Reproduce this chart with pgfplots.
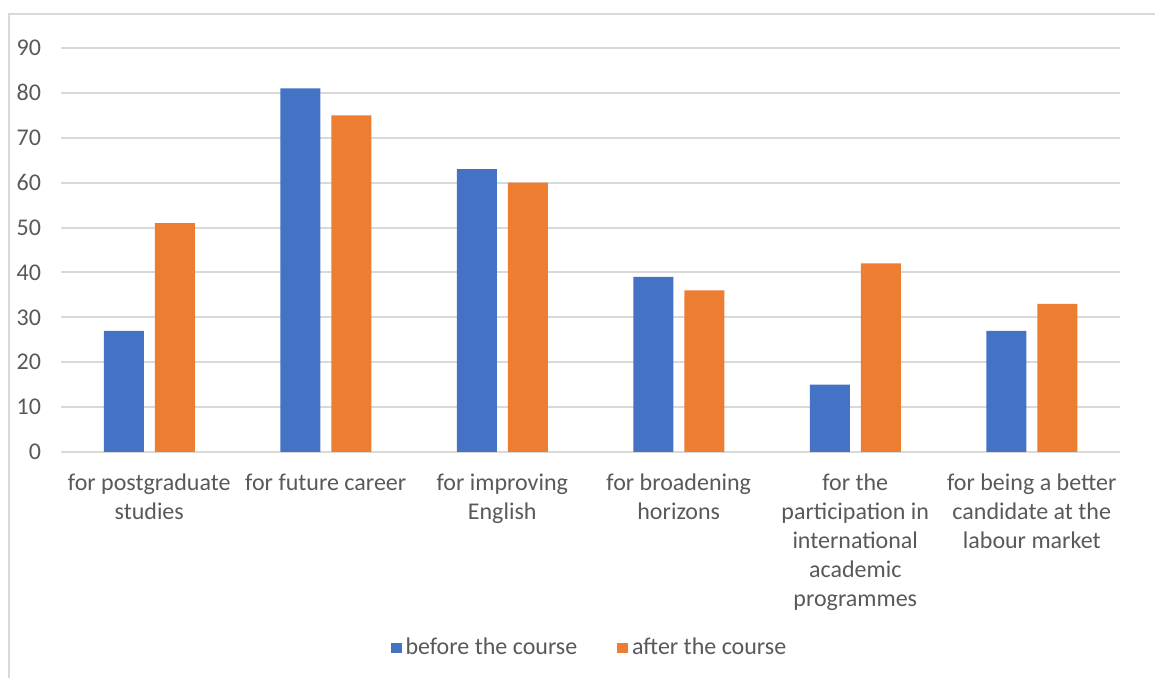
\documentclass[border=0pt]{standalone}
\usepackage{fontspec}
\setmainfont{Carlito}
\usepackage{pgfplots}
\pgfplotsset{compat=1.18}
\definecolor{xlblue}{HTML}{4472C4}
\definecolor{xlorange}{HTML}{ED7D31}
\definecolor{xlgrid}{HTML}{D9D9D9}
\definecolor{xltext}{HTML}{595959}
\begin{document}
\begin{tikzpicture}
\useasboundingbox (0,0) rectangle (577.5pt,339pt);
% chart frame (left and top edges only are visible)
\draw[xlgrid, line width=1pt] (4.5pt,0pt) -- (4.5pt,332pt) -- (577.5pt,332pt);
\begin{axis}[
    at={(30.5pt,113pt)}, anchor=south west,
    scale only axis,
    width=529.5pt, height=202pt,
    ybar=5.5pt, bar width=20pt,
    xmin=-0.5, xmax=5.5,
    ymin=0, ymax=90,
    ytick={0,10,...,90},
    xtick={0,...,5},
    xticklabels={
      {for postgraduate\\studies},
      {for future career},
      {for improving\\English},
      {for broadening\\horizons},
      {for the\\participation in\\international\\academic\\programmes},
      {for being a better\\candidate at the\\labour market}
    },
    xticklabel style={align=center, font=\fontsize{12}{14.5}\selectfont, text=xltext, yshift=-7.5pt},
    yticklabel style={font=\fontsize{12}{14}\selectfont, text=xltext, xshift=-6.5pt},
    /pgf/number format/assume math mode=true,
    major tick length=0pt,
    axis line style={draw=none},
    ymajorgrids,
    major grid style={xlgrid, line width=1pt},
    legend style={
      at={(0.5,-0.485)}, anchor=center,
      draw=none, font=\fontsize{12}{14}\selectfont, text=xltext,
      legend columns=-1,
      /tikz/every even column/.append style={column sep=18pt}
    },
    legend image code/.code={\fill[#1] (0pt,-2.7pt) rectangle (5.4pt,2.7pt);},
]
\addplot[draw=none, fill=xlblue] coordinates {
  (0,27) (1,81) (2,63) (3,39) (4,15) (5,27)
};
\addplot[draw=none, fill=xlorange] coordinates {
  (0,51) (1,75) (2,60) (3,36) (4,42) (5,33)
};
\legend{before the course, after the course}
\end{axis}
\end{tikzpicture}
\end{document}
